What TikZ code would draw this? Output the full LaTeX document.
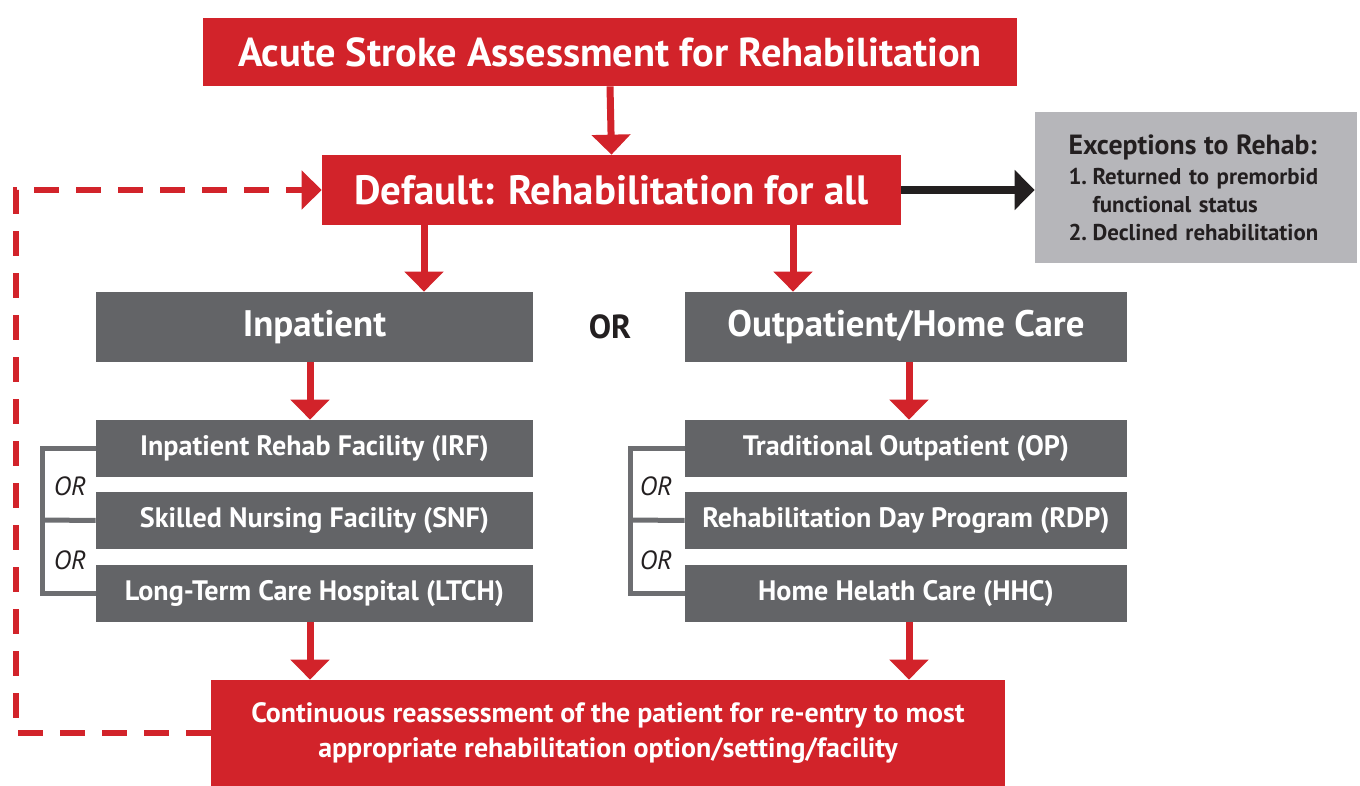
\documentclass[tikz,border=0pt]{standalone}
\usepackage{fontspec}
\setmainfont{PT Sans}
\usetikzlibrary{arrows.meta}

\definecolor{strokered}{HTML}{D2232A}
\definecolor{boxgray}{HTML}{636467}
\definecolor{excgray}{HTML}{B6B6BA}
\definecolor{inkblack}{HTML}{231F20}
\definecolor{linegray}{HTML}{6D6E71}

\tikzset{
  redbox/.style={fill=strokered, text=white, inner sep=0pt, align=center},
  graybox/.style={fill=boxgray, text=white, inner sep=0pt, align=center},
  subbox/.style={graybox, minimum height=1.14cm, font=\fontsize{16}{19}\selectfont\bfseries},
  redarrow/.style={draw=strokered, line width=0.14cm, -{Triangle[width=0.76cm,length=0.4cm]}},
  blackarrow/.style={draw=inkblack, line width=0.16cm, -{Triangle[width=0.78cm,length=0.4cm]}},
  backloop/.style={draw=strokered, line width=0.13cm, dash pattern=on 0.5cm off 0.34cm, line join=miter, -{Triangle[width=0.76cm,length=0.4cm]}},
  bracket/.style={draw=linegray, line width=0.1cm},
  ortext/.style={text=inkblack, font=\fontsize{15}{18}\selectfont\itshape},
}

\begin{document}
\begin{tikzpicture}[x=0.02cm, y=-0.02cm]
  %%%%% START %%%%%
  \useasboundingbox (0,0) rectangle (1360,786);

  % top row
  \node[redbox, minimum width=16.28cm, minimum height=1.36cm, font=\fontsize{23}{27}\selectfont\bfseries] (assess) at (610,52) {Acute Stroke Assessment for Rehabilitation};
  \node[redbox, minimum width=11.58cm, minimum height=1.40cm, font=\fontsize{23.3}{27}\selectfont\bfseries] (default) at (611.5,190) {Default: Rehabilitation for all};
  \node[fill=excgray, text=inkblack, minimum width=6.44cm, minimum height=3.02cm, inner sep=0pt, text width=5.1cm, align=left, font=\fontsize{13}{16}\selectfont\bfseries] (except) at (1196,187.5)
    {{\fontsize{15.8}{18}\selectfont Exceptions to Rehab:}\\[1pt]
     \makebox[1.05em][l]{1.}Returned to premorbid\\
     \hspace*{1.05em}functional status\\
     \makebox[1.05em][l]{2.}Declined rehabilitation};

  % settings
  \node[graybox, minimum width=8.74cm, minimum height=1.40cm, font=\fontsize{21}{25}\selectfont\bfseries] (inpat) at (314.5,327) {Inpatient};
  \node[graybox, minimum width=8.84cm, minimum height=1.40cm, font=\fontsize{21}{25}\selectfont\bfseries] (outpat) at (906,327) {Outpatient/Home Care};
  \node[text=inkblack, font=\fontsize{19}{22}\selectfont\bfseries] (orbig) at (610,327) {OR};

  % inpatient options
  \node[subbox, minimum width=8.74cm] (irf) at (314.5,448.5) {Inpatient Rehab Facility (IRF)};
  \node[subbox, minimum width=8.74cm] (snf) at (314.5,520.5) {Skilled Nursing Facility (SNF)};
  \node[subbox, minimum width=8.74cm] (ltch) at (314.5,593.5) {Long-Term Care Hospital (LTCH)};

  % outpatient options
  \node[subbox, minimum width=8.84cm] (op) at (906,448.5) {Traditional Outpatient (OP)};
  \node[subbox, minimum width=8.84cm] (rdp) at (906,520.5) {Rehabilitation Day Program (RDP)};
  \node[subbox, minimum width=8.84cm] (hhc) at (906,593.5) {Home Helath Care (HHC)};

  % bottom
  \node[redbox, minimum width=15.88cm, minimum height=2.12cm, font=\fontsize{15.9}{19.5}\selectfont\bfseries] (reassess) at (608,733)
    {Continuous reassessment of the patient for re-entry to most\\appropriate rehabilitation option/setting/facility};

  % OR brackets
  \coordinate (lbrk) at (42,520);
  \coordinate (rbrk) at (630,520);
  \draw[bracket] (irf.west) -| (lbrk) |- (ltch.west);
  \draw[bracket] (snf.west) -- (lbrk);
  \draw[bracket] (op.west) -| (rbrk) |- (hhc.west);
  \draw[bracket] (rdp.west) -- (rbrk);
  \node[ortext] (or1) at (70,486) {OR};
  \node[ortext] (or2) at (70,560) {OR};
  \node[ortext] (or3) at (656,486) {OR};
  \node[ortext] (or4) at (656,560) {OR};

  % arrows
  \draw[redarrow] (assess.south) -- (default.north);
  \draw[redarrow] (default.south -| 424,0) -- (inpat.north -| 424,0);
  \draw[redarrow] (default.south -| 793,0) -- (outpat.north -| 793,0);
  \draw[redarrow] (inpat.south -| 310,0) -- (irf.north -| 310,0);
  \draw[redarrow] (outpat.south -| 909,0) -- (op.north -| 909,0);
  \draw[redarrow] (ltch.south -| 310,0) -- (reassess.north -| 310,0);
  \draw[redarrow] (hhc.south -| 909,0) -- (reassess.north -| 909,0);
  \draw[blackarrow] (default.east) -- (default.east -| except.west);

  % loop back
  \coordinate (loop) at (16,460);
  \draw[backloop] (reassess.west) -| (loop) |- (default.west);

  %%%%% END %%%%%
\end{tikzpicture}
\end{document}
